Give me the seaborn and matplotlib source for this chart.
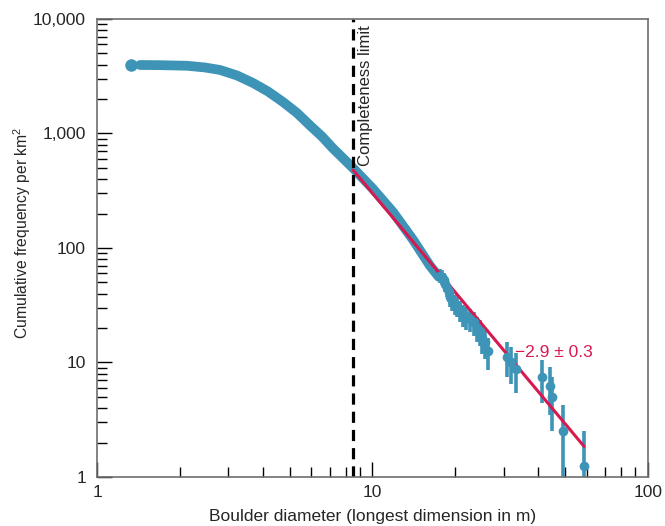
import numpy as np
import pandas as pd
import seaborn as sns
import matplotlib.pyplot as plt
from matplotlib.ticker import FixedLocator, FixedFormatter, LogLocator, NullFormatter

# survey area (km^2) used to turn boulder counts into frequency per km^2
area_km2 = 0.8

# smooth part of the cumulative curve
first_x = [1.325]
first_y = [3965]
dense_x = [1.432, 1.693, 2.122, 2.466, 2.796, 3.223, 3.684, 4.176, 4.733, 5.321,
           5.932, 6.556, 7.19, 8.424, 10.04, 11.87, 14.03, 16.17, 17.4]
dense_y = [3965, 3951, 3904, 3771, 3586, 3211, 2761, 2327, 1884, 1510,
           1175, 941, 740, 510, 328, 206, 118, 70, 56]

# sparse tail: diameter and cumulative boulder count
tail_x = [17.6, 17.9, 18.2, 18.4, 18.6, 18.9, 19.1, 19.5, 19.9, 20.3, 20.8, 21.3,
          21.9, 22.6, 23.3, 23.9, 24.5, 25.0, 25.6, 26.2, 30.8, 31.8, 33.2,
          41.2, 44.1, 44.8, 49.1, 58.6]
tail_n = [46, 45, 42, 39, 36, 33, 30, 28, 26, 25, 23, 21,
          20, 19, 18, 16, 15, 13, 12, 10, 9, 8, 7,
          6, 5, 4, 2, 1]

# power-law fit above the completeness limit
fit_x = [8.5, 58.6]
fit_y = [480, 1.85]
fit_label = "\u22122.9 \u00b1 0.3"
completeness_limit = 8.5

tail = pd.DataFrame({"diameter": tail_x, "count": tail_n})
tail["freq"] = tail["count"] / area_km2
tail["err"] = np.sqrt(tail["count"]) / area_km2
dense = pd.DataFrame({"diameter": dense_x, "freq": dense_y})

sns.set_style("white")
plt.rcParams["font.family"] = ["Liberation Sans", "DejaVu Sans"]
plt.rcParams["mathtext.fontset"] = "custom"
plt.rcParams["mathtext.rm"] = "Liberation Sans"

blue = "#3d94b7"
red = "#d7194f"

fig = plt.figure(figsize=(6.65, 5.26), dpi=100)
ax = fig.add_axes([0.1459, 0.0932, 0.8285, 0.8707])

# thick band for the densely sampled part
sns.lineplot(data=dense, x="diameter", y="freq", ax=ax, color=blue, lw=7,
             solid_capstyle="round")
ax.plot(first_x, first_y, "o", color=blue, ms=9, mec="none")

# sparse tail with Poisson error bars
lower = np.minimum(tail["err"], tail["freq"] * 0.999)
ax.plot(tail["diameter"][:20], tail["freq"][:20], color=blue, lw=4)
ax.errorbar(tail["diameter"], tail["freq"], yerr=[lower, tail["err"]], fmt="o",
            color=blue, ms=7, mec="none", elinewidth=2.6, capsize=0)

# fit line and completeness limit
ax.plot(fit_x, fit_y, color=red, lw=2.2)
ax.axvline(completeness_limit, color="black", lw=2.3, ls=(0, (3.5, 2.2)))
ax.text(completeness_limit * 1.04, 8800, "Completeness limit", rotation=90,
        va="top", ha="left", fontsize=12)
ax.text(33.0, 12.3, fit_label, color=red, fontsize=12.5, va="center", ha="left")

ax.set_xscale("log")
ax.set_yscale("log")
ax.set_xlim(1, 100)
ax.set_ylim(1, 10000)

ax.xaxis.set_major_locator(FixedLocator([1, 10, 100]))
ax.xaxis.set_major_formatter(FixedFormatter(["1", "10", "100"]))
ax.yaxis.set_major_locator(FixedLocator([1, 10, 100, 1000, 10000]))
ax.yaxis.set_major_formatter(FixedFormatter(["1", "10", "100", "1,000", "10,000"]))
for axis in (ax.xaxis, ax.yaxis):
    axis.set_minor_locator(LogLocator(base=10, subs=np.arange(2, 10)))
    axis.set_minor_formatter(NullFormatter())

ax.tick_params(which="major", direction="in", length=11, width=1, color="black",
               labelsize=12.5, top=False, right=False, bottom=True, left=True)
ax.tick_params(which="minor", direction="in", length=7, width=1, color="black",
               top=False, right=False, bottom=True, left=True)
ax.tick_params(axis="x", which="major", pad=6)
ax.tick_params(axis="y", which="major", pad=8)

for s in ax.spines.values():
    s.set_color("#6e6e6e")
    s.set_linewidth(1.2)

ax.set_xlabel("Boulder diameter (longest dimension in m)", fontsize=12.5, labelpad=6)
ax.set_ylabel("Cumulative frequency per km$^2$", fontsize=11.3)
ax.yaxis.set_label_coords(-0.116, 0.533)

fig.savefig("out.png", dpi=100)
